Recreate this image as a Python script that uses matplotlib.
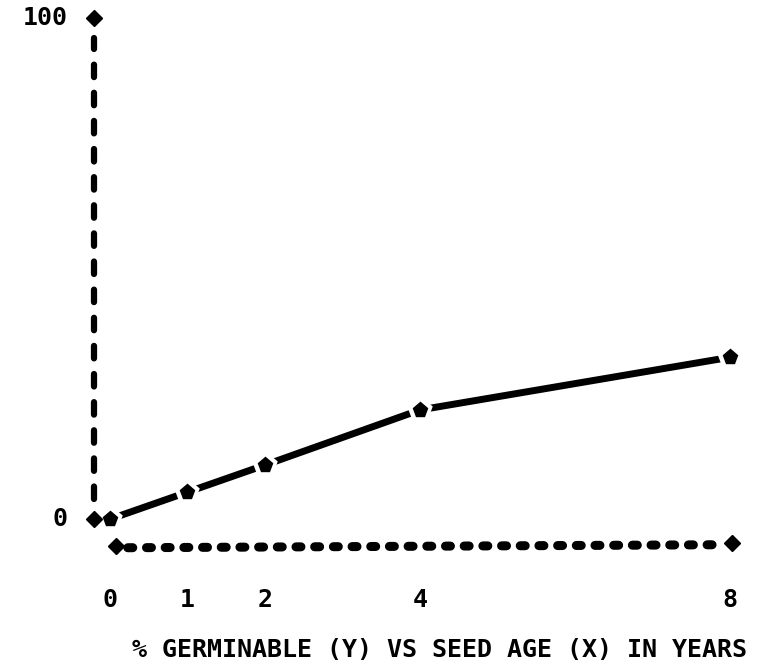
import matplotlib
matplotlib.use('Agg')
from matplotlib import pyplot as plt

# seed age (years) and % germinable
ages = [0, 1, 2, 4, 8]
germinable = [0, 5.4, 10.8, 21.8, 32.3]
age_labels = ['0', '1', '2', '4', '8']
y_ticks = [0, 100]
y_labels = ['0', '100']
title = '% GERMINABLE (Y) VS SEED AGE (X) IN YEARS'

# where the old plotter put its frame lines
y_axis_x = -0.21
x_axis_y = -5.4
x_axis_start, x_axis_end = 0.08, 8.03

font = dict(family='DejaVu Sans Mono', fontweight='bold', color='black')

fig = plt.figure(figsize=(7.61, 6.69), dpi=100)
ax = fig.add_axes([0, 0, 1, 1])
ax.set_xlim(-1.419, 8.40)
ax.set_ylim(-29.9, 103.6)
ax.axis('off')

# dashed y axis with diamonds at both ends
ax.plot([y_axis_x, y_axis_x], [y_ticks[0] + 4, y_ticks[-1] - 4], color='black', lw=4.5,
        dashes=(2, 2.5), dash_capstyle='round')
ax.plot([y_axis_x] * 2, y_ticks, 'D', color='black', ms=8, ls='none', zorder=5)

# dashed x axis, a little below zero
ax.plot([x_axis_start + 0.15, x_axis_end - 0.12], [x_axis_y - 0.3, x_axis_y + 0.3], color='black', lw=6.5,
        dashes=(0.55, 1.52), dash_capstyle='round')
ax.plot([x_axis_start, x_axis_end], [x_axis_y, x_axis_y + 0.6], 'D', color='black', ms=8, ls='none', zorder=5)

# data: solid line with pentagon markers, gaps around each marker
ax.plot(ages, germinable, color='black', lw=5, solid_capstyle='round')
ax.plot(ages, germinable, 'p', color='black', ms=11, mec='white', mew=7, ls='none')
ax.plot(ages, germinable, 'p', color='black', ms=11, ls='none')

for a, lab in zip(ages, age_labels):
    ax.text(a, -16.2, lab, ha='center', va='center', fontsize=18, **font)
for v, lab in zip(y_ticks, y_labels):
    ax.text(-0.55, v, lab, ha='right', va='center', fontsize=18, **font)

ax.text(4.25, -26.1, title, ha='center', va='center', fontsize=18, **font)

plt.savefig('out.png', dpi=100)
plt.close()
